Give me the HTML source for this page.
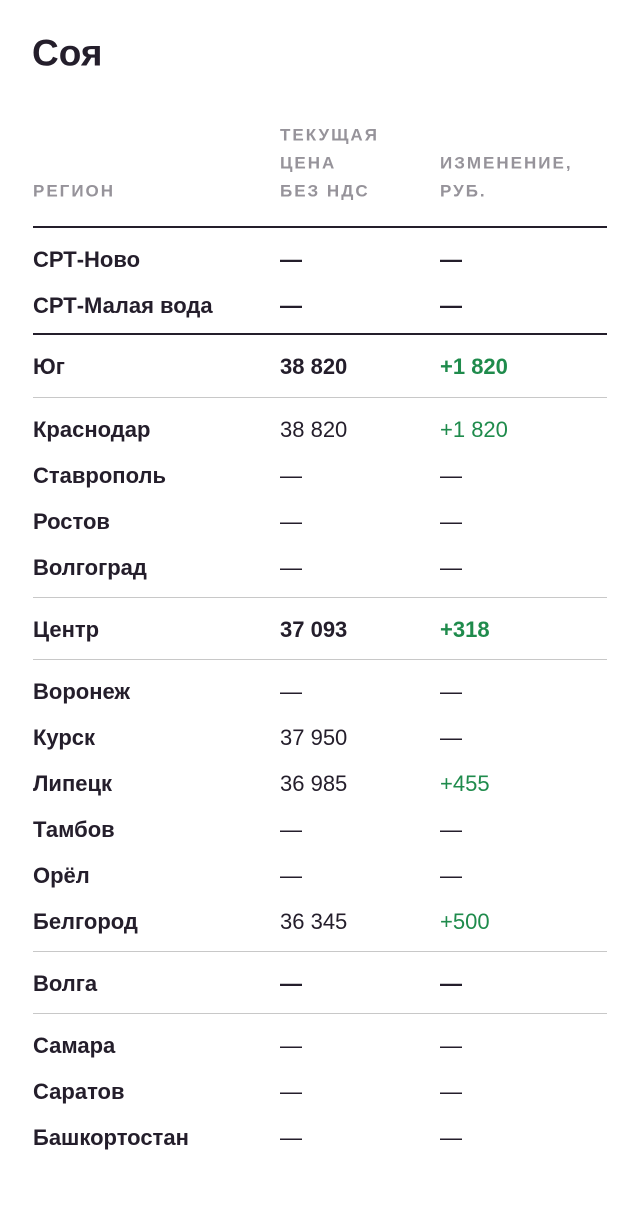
<!DOCTYPE html>
<html><head><meta charset="utf-8"><style>
body{margin:0;width:640px;height:1208px;background:#fff;font-family:"Liberation Sans",sans-serif;color:#241e2b;position:relative;overflow:hidden}
.t{position:absolute;white-space:nowrap;line-height:1;transform:translateY(-50%)}
.h{font-size:17px;letter-spacing:2px;color:#96939a;font-weight:bold}
.r{font-size:22px;font-weight:bold}
.n{font-size:22px}
.g{color:#1f8b4c}
.l{position:absolute;left:33px;width:574px;height:1px;background:#c8c8c8}
.k{background:#241e2b;height:2px}
</style></head><body>
<div class="t" style="left:32px;top:53px;font-size:37px;font-weight:bold">Соя</div>
<div class="t h" style="left:280px;top:135px">ТЕКУЩАЯ</div>
<div class="t h" style="left:280px;top:163px">ЦЕНА</div>
<div class="t h" style="left:280px;top:191px">БЕЗ НДС</div>
<div class="t h" style="left:440px;top:163px">ИЗМЕНЕНИЕ,</div>
<div class="t h" style="left:440px;top:191px">РУБ.</div>
<div class="t h" style="left:33px;top:191px">РЕГИОН</div>
<div class="l k" style="top:226px"></div>
<div class="t r" style="left:33px;top:260px">СРТ-Ново</div><div class="t r" style="left:280px;top:260px">—</div><div class="t r" style="left:440px;top:260px">—</div>
<div class="t r" style="left:33px;top:306px">СРТ-Малая вода</div><div class="t r" style="left:280px;top:306px">—</div><div class="t r" style="left:440px;top:306px">—</div>
<div class="l k" style="top:333px"></div>
<div class="t r" style="left:33px;top:367px">Юг</div><div class="t r" style="left:280px;top:367px">38 820</div><div class="t r g" style="left:440px;top:367px">+1 820</div>
<div class="l" style="top:397px"></div>
<div class="t r" style="left:33px;top:430px">Краснодар</div><div class="t n" style="left:280px;top:430px">38 820</div><div class="t n g" style="left:440px;top:430px">+1 820</div>
<div class="t r" style="left:33px;top:476px">Ставрополь</div><div class="t n" style="left:280px;top:476px">—</div><div class="t n" style="left:440px;top:476px">—</div>
<div class="t r" style="left:33px;top:522px">Ростов</div><div class="t n" style="left:280px;top:522px">—</div><div class="t n" style="left:440px;top:522px">—</div>
<div class="t r" style="left:33px;top:568px">Волгоград</div><div class="t n" style="left:280px;top:568px">—</div><div class="t n" style="left:440px;top:568px">—</div>
<div class="l" style="top:597px"></div>
<div class="t r" style="left:33px;top:630px">Центр</div><div class="t r" style="left:280px;top:630px">37 093</div><div class="t r g" style="left:440px;top:630px">+318</div>
<div class="l" style="top:659px"></div>
<div class="t r" style="left:33px;top:692px">Воронеж</div><div class="t n" style="left:280px;top:692px">—</div><div class="t n" style="left:440px;top:692px">—</div>
<div class="t r" style="left:33px;top:738px">Курск</div><div class="t n" style="left:280px;top:738px">37 950</div><div class="t n" style="left:440px;top:738px">—</div>
<div class="t r" style="left:33px;top:784px">Липецк</div><div class="t n" style="left:280px;top:784px">36 985</div><div class="t n g" style="left:440px;top:784px">+455</div>
<div class="t r" style="left:33px;top:830px">Тамбов</div><div class="t n" style="left:280px;top:830px">—</div><div class="t n" style="left:440px;top:830px">—</div>
<div class="t r" style="left:33px;top:876px">Орёл</div><div class="t n" style="left:280px;top:876px">—</div><div class="t n" style="left:440px;top:876px">—</div>
<div class="t r" style="left:33px;top:922px">Белгород</div><div class="t n" style="left:280px;top:922px">36 345</div><div class="t n g" style="left:440px;top:922px">+500</div>
<div class="l" style="top:951px"></div>
<div class="t r" style="left:33px;top:984px">Волга</div><div class="t r" style="left:280px;top:984px">—</div><div class="t r" style="left:440px;top:984px">—</div>
<div class="l" style="top:1013px"></div>
<div class="t r" style="left:33px;top:1046px">Самара</div><div class="t n" style="left:280px;top:1046px">—</div><div class="t n" style="left:440px;top:1046px">—</div>
<div class="t r" style="left:33px;top:1092px">Саратов</div><div class="t n" style="left:280px;top:1092px">—</div><div class="t n" style="left:440px;top:1092px">—</div>
<div class="t r" style="left:33px;top:1138px">Башкортостан</div><div class="t n" style="left:280px;top:1138px">—</div><div class="t n" style="left:440px;top:1138px">—</div>
</body></html>
